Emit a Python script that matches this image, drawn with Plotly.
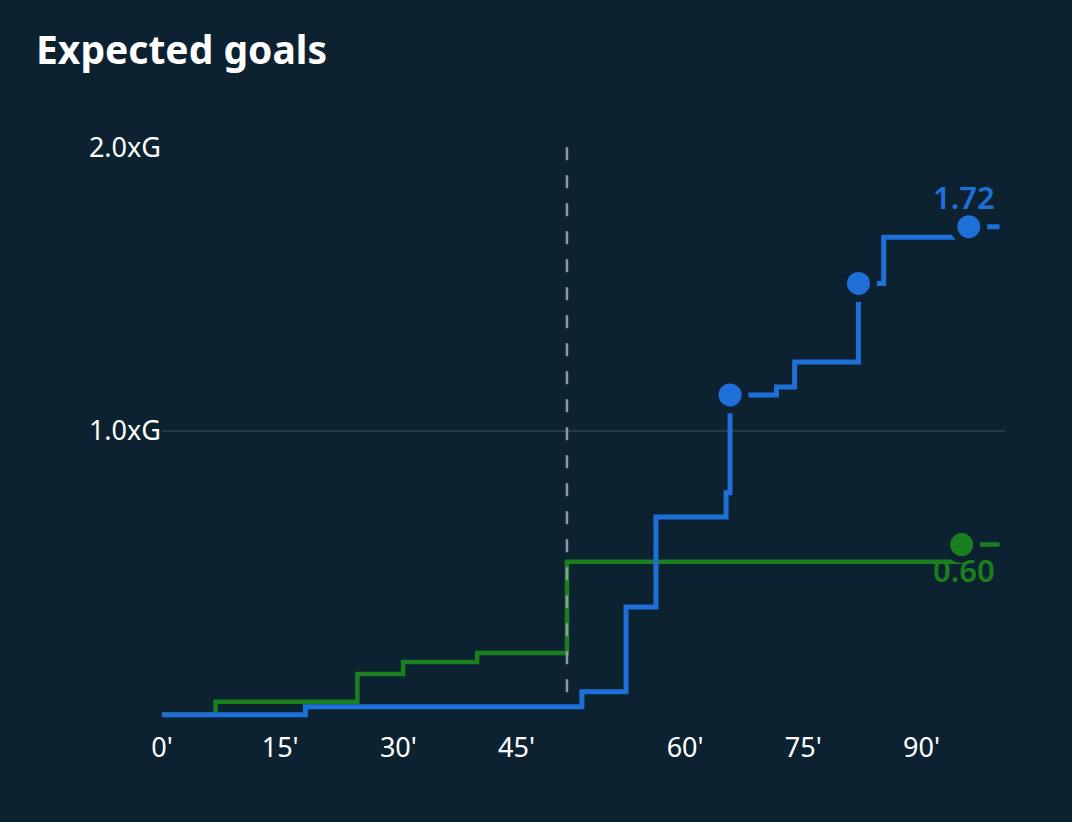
import plotly.graph_objects as go

# match data: (half, match minute, cumulative xG)
HT_STOPPAGE = 6.4  # first half added time, pushes the 2nd half along the axis
END_MINUTE = 99.9

blue_half = [1, 1, 2, 2, 2, 2, 2, 2, 2, 2, 2, 2, 2]
blue_minute = [0, 18.2, 46.9, 52.5, 56.3, 65.2, 65.7, 71.6, 73.9, 82.0, 85.2, 96.0, END_MINUTE]
blue_xg = [0.0, 0.028, 0.081, 0.38, 0.697, 0.782, 1.127, 1.155, 1.243, 1.52, 1.683, 1.72, 1.72]
blue_goal = [False, False, False, False, False, False, True, False, False, True, False, True, False]

green_half = [1, 1, 1, 1, 1, 1, 2, 2]
green_minute = [0, 6.8, 24.8, 30.6, 40.0, 51.4, 95.1, END_MINUTE]
green_xg = [0.0, 0.046, 0.144, 0.186, 0.218, 0.539, 0.60, 0.60]
green_goal = [False, False, False, False, False, False, True, False]

tick_half = [1, 1, 1, 1, 2, 2, 2]
tick_minute = [0, 15, 30, 45, 60, 75, 90]
tick_text = ["0'", "15'", "30'", "45'", "60'", "75'", "90'"]

BG = "#0c2230"
BLUE = "#1f6fd9"
GREEN = "#1a7f1e"
FONT = "Noto Sans"


def timeline(half, minute):
    # second-half minutes sit after the first-half stoppage time
    return [m if h == 1 else m + HT_STOPPAGE for h, m in zip(half, minute)]


blue_x = timeline(blue_half, blue_minute)
green_x = timeline(green_half, green_minute)
ht_x = 45 + HT_STOPPAGE

fig = go.Figure()

for xs, ys, goals, color, width in [
    (green_x, green_xg, green_goal, GREEN, 4.5),
    (blue_x, blue_xg, blue_goal, BLUE, 5),
]:
    fig.add_trace(go.Scatter(
        x=xs, y=ys, mode="lines", line=dict(color=color, width=width, shape="hv"),
        hoverinfo="skip", showlegend=False,
    ))
    fig.add_trace(go.Scatter(
        x=[x for x, g in zip(xs, goals) if g],
        y=[y for y, g in zip(ys, goals) if g],
        mode="markers",
        marker=dict(color=color, size=30, line=dict(color=BG, width=7)),
        showlegend=False,
    ))

# 1.0xG reference line and half-time marker (drawn top-down so the dashes start at 2.0)
fig.add_shape(type="line", xref="paper", x0=0, x1=1, y0=1.0, y1=1.0,
              line=dict(color="#3d5361", width=1), layer="below")
fig.add_shape(type="line", x0=ht_x, x1=ht_x, y0=2.0, y1=0.03,
              line=dict(color="#8f999f", width=2.5, dash="13px,15px"), layer="above")

# final totals
fig.add_annotation(x=106.0, y=blue_xg[-1], text=f"{blue_xg[-1]:.2f}", showarrow=False,
                   xanchor="right", yanchor="middle", yshift=30,
                   font=dict(family=FONT, size=31, color=BLUE, weight=600))
fig.add_annotation(x=106.0, y=green_xg[-1], text=f"{green_xg[-1]:.2f}", showarrow=False,
                   xanchor="right", yanchor="middle", yshift=-25,
                   font=dict(family=FONT, size=31, color=GREEN, weight=600))

fig.update_layout(
    width=1072, height=822,
    paper_bgcolor=BG, plot_bgcolor=BG,
    margin=dict(l=162, r=67, t=133, b=93),
    font=dict(family=FONT, color="#ffffff", size=27),
    title=dict(text="<b>Expected goals</b>", x=36 / 1072, xanchor="left",
               xref="container", y=1 - 50 / 822, yanchor="middle", yref="container",
               font=dict(family=FONT, size=39, color="#ffffff")),
    xaxis=dict(range=[0, 107], tickvals=timeline(tick_half, tick_minute), ticktext=tick_text,
               showgrid=False, zeroline=False, showline=False, ticks=""),
    yaxis=dict(range=[-0.05, 2.05], tickvals=[1.0, 2.0], ticktext=["1.0xG", "2.0xG"],
               showgrid=False, zeroline=False, showline=False, ticks=""),
)

# drop the browser's default page margin so the chart fills the window
fig.write_html("out.html", config={"displayModeBar": False},
               post_script="document.body.style.margin='0';")
